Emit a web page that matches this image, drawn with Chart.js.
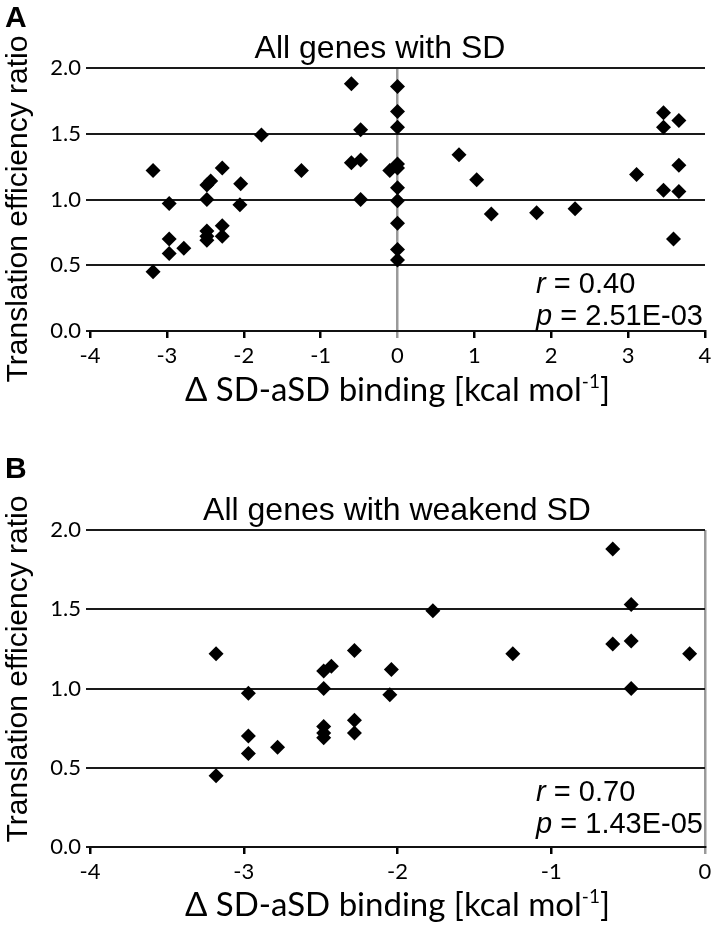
<!DOCTYPE html>
<html>
<head>
<meta charset="utf-8">
<script src="https://cdn.jsdelivr.net/npm/chart.js@4.4.0/dist/chart.umd.min.js"></script>
<style>
  html, body { margin: 0; padding: 0; background: #fff; }
  #wrapA, #wrapB { position: absolute; left: 0; width: 717px; }
  #wrapA { top: 0; height: 440px; }
  #wrapB { top: 440px; height: 490px; }
</style>
</head>
<body>
<div id="wrapA"><canvas id="chartA" width="717" height="440"></canvas></div>
<div id="wrapB"><canvas id="chartB" width="717" height="490"></canvas></div>
<script>
// panel A: all genes with SD
const allX = [-3.18, -2.97, -2.97, -2.97, -3.18, -2.78, -2.48, -2.43, -2.48, -2.48, -2.48, -2.48,
  -2.28, -2.28, -2.28, -2.04, -2.05, -1.77, -1.25, -0.60, -0.60, -0.48, -0.48, -0.48, -0.10,
  0, 0, 0, 0, 0, 0, 0, 0, 0, 0,
  0.80, 1.03, 1.22, 1.81, 2.31, 3.11, 3.46, 3.66, 3.46, 3.66, 3.46, 3.66, 3.59];
const allY = [1.22, 0.97, 0.70, 0.59, 0.45, 0.63, 1.11, 1.14, 1.00, 0.76, 0.72, 0.69,
  1.24, 0.80, 0.72, 1.12, 0.96, 1.49, 1.22, 1.88, 1.28, 1.53, 1.30, 1.00, 1.22,
  1.86, 1.67, 1.55, 1.27, 1.24, 1.09, 0.99, 0.82, 0.62, 0.54,
  1.34, 1.15, 0.89, 0.90, 0.93, 1.19, 1.66, 1.60, 1.55, 1.26, 1.07, 1.06, 0.70];

// panel B: all genes with weakened SD
const weakX = [-3.18, -2.97, -2.97, -2.97, -3.18, -2.78, -2.48, -2.43, -2.48, -2.48, -2.48, -2.48,
  -2.28, -2.28, -2.28, -2.04, -2.05, -1.77, -1.25, -0.60, -0.60, -0.48, -0.48, -0.48, -0.10];
const weakY = [1.22, 0.97, 0.70, 0.59, 0.45, 0.63, 1.11, 1.14, 1.00, 0.76, 0.72, 0.69,
  1.24, 0.80, 0.72, 1.12, 0.96, 1.49, 1.22, 1.88, 1.28, 1.53, 1.30, 1.00, 1.22];

const yTicks = [0, 0.5, 1, 1.5, 2];
const titleA = 'All genes with SD';
const titleB = 'All genes with weakend SD';
const statsA = ['0.40', '2.51E-03'];
const statsB = ['0.70', '1.43E-05'];

const ARIAL = '"Liberation Sans", Arial, sans-serif';
const CALI = 'Lato, "Open Sans", sans-serif';

const textPlugin = {
  id: 'panelText',
  afterDraw(chart, args, o) {
    const ctx = chart.ctx, a = chart.chartArea;
    const cx = (a.left + a.right) / 2;
    ctx.save();
    ctx.fillStyle = '#000';
    // panel letter
    ctx.font = 'bold 30px ' + ARIAL;
    ctx.textAlign = 'left';
    ctx.textBaseline = 'alphabetic';
    ctx.fillText(o.letter, 5, o.letterY);
    // title
    ctx.font = '32px ' + ARIAL;
    ctx.textAlign = 'center';
    ctx.fillText(o.title, o.titleX, a.top - 10);
    // y title
    ctx.save();
    ctx.translate(27, o.yTitleY);
    ctx.rotate(-Math.PI / 2);
    ctx.font = '30px ' + ARIAL;
    ctx.fillText('Translation efficiency ratio', 0, 0);
    ctx.restore();
    // x title with superscript
    const main = '\u0394 SD-aSD binding [kcal mol';
    ctx.font = '33px ' + CALI;
    const w1 = ctx.measureText(main).width;
    const w3 = ctx.measureText(']').width;
    ctx.font = '19px ' + CALI;
    const w2 = ctx.measureText('-1').width;
    let x = cx - (w1 + w2 + w3) / 2;
    const by = a.bottom + o.xTitleOffset;
    ctx.textAlign = 'left';
    ctx.font = '33px ' + CALI;
    ctx.fillText(main, x, by);
    ctx.font = '19px ' + CALI;
    ctx.fillText('-1', x + w1, by - 13);
    ctx.font = '33px ' + CALI;
    ctx.fillText(']', x + w1 + w2, by);
    // stats, left aligned block ending at the right edge
    ctx.font = '29px ' + ARIAL;
    const pLine = ' = ' + o.stats[1];
    const pw = ctx.measureText('p').width + ctx.measureText(pLine).width;
    const sx = a.right - 2 - pw;
    ctx.font = 'italic 29px ' + ARIAL;
    ctx.fillText('r', sx, a.bottom - o.rOff);
    ctx.fillText('p', sx, a.bottom - o.pOff);
    const iw = ctx.measureText('r').width, ipw = ctx.measureText('p').width;
    ctx.font = '29px ' + ARIAL;
    ctx.fillText(' = ' + o.stats[0], sx + iw, a.bottom - o.rOff);
    ctx.fillText(pLine, sx + ipw, a.bottom - o.pOff);
    ctx.restore();
  }
};

function makeChart(id, xs, ys, xMax, opts, xHeight) {
  const pts = xs.map((v, i) => ({ x: v, y: ys[i] }));
  return new Chart(document.getElementById(id), {
    type: 'scatter',
    data: {
      datasets: [{
        data: pts,
        pointStyle: 'rectRot',
        pointRadius: 7.5,
        backgroundColor: '#000',
        borderColor: '#000',
        borderWidth: 0
      }]
    },
    options: {
      responsive: false,
      animation: false,
      layout: { padding: { left: 0, right: 12, top: opts.top, bottom: 0 } },
      plugins: {
        legend: { display: false },
        tooltip: { enabled: false },
        panelText: opts
      },
      scales: {
        x: {
          type: 'linear',
          min: -4,
          max: xMax,
          ticks: { stepSize: 1, color: '#000', padding: 5, font: { family: CALI, size: 22 } },
          grid: {
            color: c => (c.tick && c.tick.value === 0) ? '#9a9a9a' : 'rgba(0,0,0,0)',
            tickColor: c => (c.tick && c.tick.value === 0) ? '#9a9a9a' : '#000',
            lineWidth: 2.5,
            tickLength: 7
          },
          border: { display: true, color: '#111', width: 2 },
          afterFit: s => { s.height = xHeight; }
        },
        y: {
          min: 0,
          max: 2,
          afterBuildTicks: s => { s.ticks = yTicks.map(v => ({ value: v })); },
          ticks: { color: '#000', padding: 5, font: { family: CALI, size: 22 }, callback: v => v.toFixed(1) },
          grid: { color: '#1a1a1a', lineWidth: 2, tickLength: 4 },
          border: { display: false },
          afterFit: s => { s.width = 90; }
        }
      }
    },
    plugins: [textPlugin]
  });
}

makeChart('chartA', allX, allY, 4,
  { letter: 'A', letterY: 27, title: titleA, titleX: 380, yTitleY: 209, stats: statsA,
    rOff: 38, pOff: 6, xTitleOffset: 70, top: 68 }, 109);
makeChart('chartB', weakX, weakY, 0,
  { letter: 'B', letterY: 38, title: titleB, titleX: 397, yTitleY: 229, stats: statsB,
    rOff: 46, pOff: 14, xTitleOffset: 69, top: 90 }, 83);
</script>
</body>
</html>
